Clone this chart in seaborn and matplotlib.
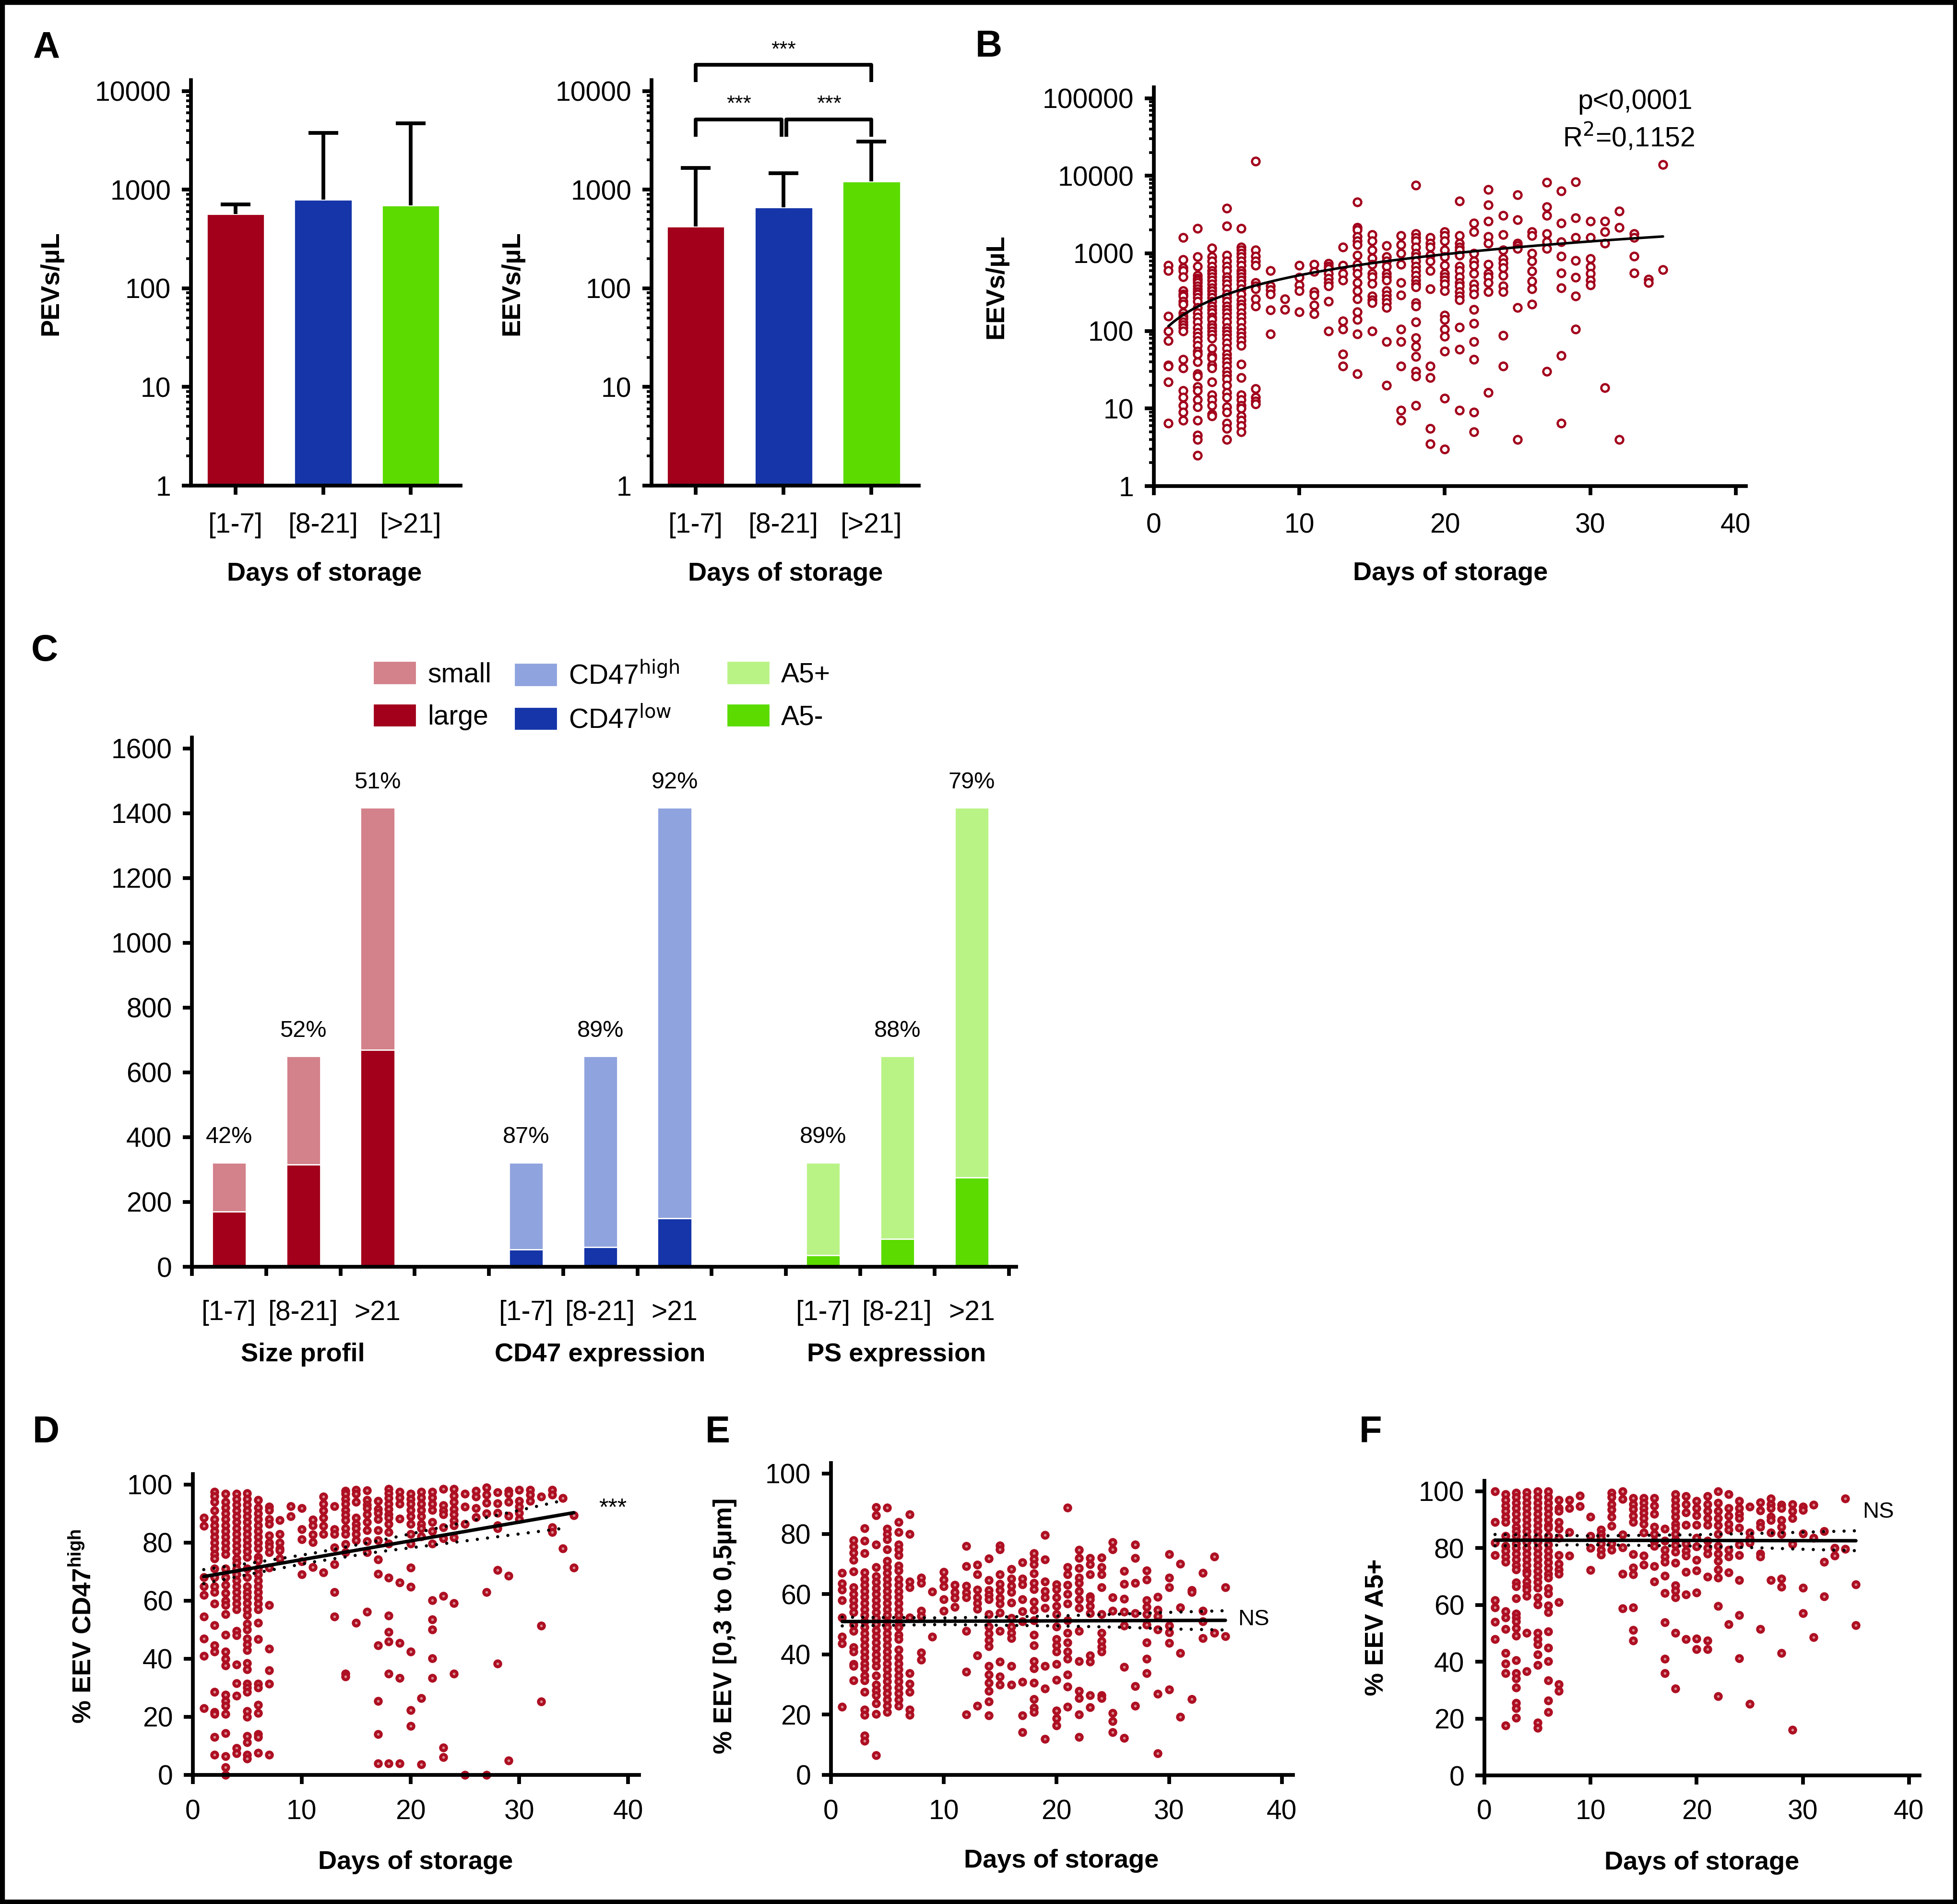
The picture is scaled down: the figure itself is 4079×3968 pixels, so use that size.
import matplotlib
matplotlib.use("Agg")
import matplotlib.pyplot as plt
from matplotlib import ticker
from matplotlib.patches import Patch, Rectangle
import numpy as np
import pandas as pd
import seaborn as sns

W, H, DPI = 4080, 3968, 200

# ---------------- data ----------------
storage_groups = ["[1-7]", "[8-21]", "[>21]"]
pev_means = [567, 794, 695]
pev_upper = [710, 3780, 4700]
eev_means = [423, 666, 1208]
eev_upper = [1655, 1470, 3085]

c_groups = ["Size profil", "CD47 expression", "PS expression"]
c_ticklabels = ["[1-7]", "[8-21]", ">21"]
eev_total = [322, 650, 1417]
size_large = [171, 315, 670]
cd47_low = [53, 60, 150]
a5_neg = [35, 86, 275]
size_pct = ["42%", "52%", "51%"]
cd47_pct = ["87%", "89%", "92%"]
ps_pct = ["89%", "88%", "79%"]

# panel B, EEVs/uL per day of storage
eev_by_day = {
    1: [700, 600, 155, 100, 75, 36, 35, 22, 6.5],
    2: [1600, 830, 650, 600, 500, 330, 300, 280, 240, 220, 170, 155, 145, 130, 120, 110, 100, 43, 33, 17, 14, 11, 9, 7],
    3: [2100, 900, 680, 520, 480, 450, 420, 380, 350, 320, 300, 270, 240, 200, 170, 150, 130, 110, 95, 85, 75, 65, 55,
        50, 40, 28, 26, 19, 17, 13, 10.5, 7, 4.5, 4, 2.5],
    4: [1170, 900, 800, 680, 600, 550, 500, 450, 400, 360, 330, 300, 270, 240, 210, 190, 170, 150, 140, 120, 110, 100,
        90, 80, 60, 48, 45, 36, 33, 22, 15, 13, 11, 8.5, 8],
    5: [3800, 2250, 950, 800, 680, 600, 500, 450, 400, 350, 300, 270, 240, 210, 190, 170, 150, 130, 110, 100, 90, 80,
        70, 60, 50, 45, 40, 35, 30, 27, 24, 20, 16, 14, 10.5, 9, 6.5, 5.5, 4],
    6: [2100, 1200, 1100, 1000, 900, 800, 700, 600, 550, 500, 450, 400, 350, 300, 250, 220, 200, 170, 150, 130, 110, 95,
        85, 75, 65, 37, 25, 15, 13, 11, 10, 8, 7, 6, 5],
    7: [15500, 1100, 920, 800, 700, 420, 380, 350, 260, 210, 18, 14, 12.5, 11.5],
    8: [600, 380, 340, 300, 185, 92],
    9: [260, 190],
    10: [700, 490, 390, 330, 175],
    11: [720, 580, 320, 290, 215, 165],
    12: [740, 680, 630, 550, 480, 420, 380, 240, 100],
    13: [1200, 700, 550, 450, 135, 105, 50, 35],
    14: [4600, 2150, 2000, 1650, 1450, 1300, 950, 720, 630, 550, 420, 330, 260, 175, 140, 92, 28],
    15: [1750, 1450, 1100, 870, 720, 550, 500, 410, 280, 250, 230, 100],
    16: [1250, 900, 800, 680, 550, 500, 450, 330, 290, 260, 230, 200, 73, 20],
    17: [1700, 1300, 1000, 720, 420, 290, 105, 73, 35, 9.5, 7],
    18: [7500, 1800, 1600, 1450, 1200, 1000, 900, 800, 680, 600, 520, 450, 400, 370, 230, 210, 130, 82, 63, 47, 30, 26, 11],
    19: [1600, 1350, 1200, 950, 800, 600, 350, 35, 25, 5.5, 3.5],
    20: [1900, 1700, 1450, 1100, 900, 700, 550, 500, 450, 400, 330, 160, 140, 105, 85, 55, 13.5, 3],
    21: [4700, 1700, 1350, 1200, 1100, 950, 680, 600, 500, 420, 380, 320, 280, 250, 112, 58, 9.5],
    22: [2450, 1900, 1000, 800, 700, 550, 400, 350, 300, 190, 125, 73, 43, 9, 5],
    23: [6600, 4200, 2600, 1650, 1350, 720, 550, 500, 420, 320, 16],
    24: [3100, 1750, 1100, 850, 750, 650, 520, 380, 320, 88, 35],
    25: [5700, 2700, 1350, 1250, 1150, 200, 4],
    26: [1900, 1700, 1000, 800, 590, 440, 350, 220],
    27: [8200, 4000, 3100, 1800, 1400, 1150, 30],
    28: [6400, 2450, 1400, 920, 560, 360, 48, 6.5],
    29: [8300, 2850, 1600, 810, 490, 280, 105],
    30: [2600, 1600, 850, 670, 550, 450, 390],
    31: [2600, 1900, 1350, 18.5],
    32: [3500, 2150, 4],
    33: [1800, 1600, 920, 560],
    34: [460, 420],
    35: [14000, 620],
}
# regression curve of panel B (linear fit, drawn on the log axis)
fit_b_days = [1, 35]
fit_b_values = [115, 1650]
fit_b_text = ["p<0,0001", "R$^2$=0,1152"]

# panel D, % EEV CD47high
cd47_by_day = {
    1: [88.5, 85.7, 68, 65, 62, 54.5, 47, 41, 23],
    2: [97.5, 96, 94, 91, 88, 86, 84, 82, 80, 78, 76, 74.5, 71, 68, 65, 63, 59, 51.6, 44.6, 42.5, 28.6, 21.7, 21, 13, 7],
    3: [96.8, 94, 92, 90, 88, 86, 84, 82, 80, 78, 76, 71, 68, 65.5, 62.7, 60, 58.5, 55.4, 48.3, 42.5, 40, 37.7, 27.6,
        25.5, 23.8, 21, 14.3, 6.4, 2.6, 0],
    4: [96.8, 95, 93, 91, 89, 87, 85, 83, 81, 79, 77, 74.5, 73, 71, 69, 67, 65, 63, 61, 59, 57, 49.5, 48, 38, 31.6,
        27.3, 9.2, 7.4],
    5: [97, 95, 93, 91, 89, 87, 85, 83, 81, 79, 77, 75, 71, 68, 65, 63, 61.3, 59.2, 57, 55, 52, 50, 47, 45, 43, 38.5,
        36.3, 31.4, 30, 28.6, 22, 20, 13.4, 11.3, 7, 5.7],
    6: [94.7, 92, 90, 88, 86, 84, 82, 80, 78, 75, 73.9, 71, 69, 67, 65, 63, 61, 59, 57, 52.3, 46.7, 31.4, 30, 24.1,
        21.3, 14, 13, 7.6],
    7: [92.3, 91.2, 88, 86.4, 82.5, 80, 78.7, 76.6, 71.4, 58.5, 43.5, 36, 31.4, 7],
    8: [87.8, 82.9, 80, 78, 77.4, 74.5],
    9: [92.6, 89],
    10: [91.9, 84.6, 81.2, 73.6, 69.1],
    11: [87.9, 86, 82.8, 80.1, 71.6],
    12: [95.8, 93.3, 91, 88.5, 85.7, 82.9, 69.7],
    13: [92.6, 84.6, 82.9, 78.4, 72.5, 62.9, 54.5],
    14: [97.8, 96.8, 95, 93.3, 91.2, 89.5, 87.8, 84.9, 82.9, 79.4, 76.6, 34.9, 33.9],
    15: [98.2, 96.8, 94, 88.5, 86.4, 84.9, 82.9, 80.8, 52.3],
    16: [98, 94.7, 93, 91.9, 89.8, 87.1, 84.3, 80.5, 76.6, 56.1],
    17: [94.4, 91.6, 90.2, 88.1, 84.3, 80.8, 74.2, 69.3, 44.6, 25.5, 14, 4],
    18: [98.5, 97, 95.4, 93.3, 91.5, 89.8, 88.5, 86.4, 83.6, 79.7, 67.9, 54.9, 49.2, 46, 34.9, 4],
    19: [97.5, 95.5, 93.3, 88.3, 66.2, 45.5, 33.3, 4],
    20: [96.8, 95, 93.3, 91.2, 89, 86.4, 82.9, 79.7, 71.4, 64.8, 42.4, 22.3, 16.8],
    21: [97.5, 95.5, 93.3, 91.2, 89, 86.4, 84.9, 82.2, 26.4, 3.6],
    22: [97.5, 95.5, 93.3, 91.2, 87.1, 83.9, 79.7, 60.1, 53.5, 50, 40.1, 33.4],
    23: [98.5, 92.9, 91, 89.8, 85.3, 81.5, 61.7, 9.5, 6.1],
    24: [98.5, 96.1, 94, 91.5, 89.8, 87.5, 86, 81.8, 59.1, 34.9],
    25: [96.8, 92.3, 86.4, 0],
    26: [97.8, 95.8, 91.9, 88.8],
    27: [98.9, 96.5, 93.7, 90, 62.9, 0],
    28: [97.3, 93.5, 90.2, 86, 85, 70.6, 38.4],
    29: [97.8, 96.8, 94, 89.3, 68.6, 4.9],
    30: [98.2, 94.4, 92.3, 90.2, 88.1],
    31: [98.2, 96.5, 94.4],
    32: [95.8, 51.4, 25.2],
    33: [98.2, 96.5, 85.3, 83.6],
    34: [95.3, 78],
    35: [89.4, 71.4],
}
# fit line and 95% confidence band of panel D
fit_d_days = [1, 35]
fit_d_values = [68.3, 90.3]
band_d_days = [1, 6, 11, 17, 23, 29, 34]
band_d_upper = [70.7, 73.3, 76.3, 80.6, 85.4, 90.3, 94.5]
band_d_lower = [65.9, 69.7, 73.3, 76.8, 79.6, 82.5, 84.9]

# panel E, % EEV [0,3 to 0,5 um]
small_by_day = {
    1: [67, 63.6, 61.5, 58, 52.3, 45.9, 43.7, 22.6],
    2: [77.9, 75.8, 73.7, 71.3, 67.5, 62.3, 60, 58, 56, 54, 49.9, 47.8, 42.3, 40.9, 36.8, 36.1, 31.3],
    3: [81.8, 77.7, 73.5, 67.2, 65, 63, 61, 59, 57, 55, 53, 51, 49, 47, 45, 43, 41, 39, 37, 35.4, 33, 31.3, 27.5,
        21.6, 19.9, 13, 11.3],
    4: [88.9, 86.2, 76.4, 68.9, 66, 64, 62, 60, 58, 56, 54, 52, 50, 48, 46, 44, 42, 40, 38, 36.1, 33, 30, 28, 26.4,
        23.7, 20.2, 6.6],
    5: [88.7, 81.7, 80, 78.2, 74.8, 71, 69, 67, 65, 63, 61, 59, 57, 55, 53, 51, 49, 47, 45, 43, 41, 39, 37, 35, 33,
        31, 29, 27, 25, 23, 20.9],
    6: [83.9, 80.6, 76.4, 74.8, 73, 69.4, 67.9, 65, 63, 61, 59, 57, 55, 53, 51, 49, 46.5, 45.1, 41.6, 39, 37, 35, 33,
        31, 29, 27, 25, 23],
    7: [86.4, 79.9, 64.1, 62.3, 52.3, 33.7, 30.2, 27.6, 21.6, 19.9],
    8: [65.4, 63.7, 54.4, 52.7, 40.6, 38.2],
    9: [60.8, 45.8],
    10: [67.3, 64.8, 62.5, 58.3, 54.4],
    11: [63, 60.6, 58.8, 55.8],
    12: [75.9, 69.2, 62.7, 60.5, 58.9, 47.8, 34.2, 20],
    13: [69.7, 66.6, 61.4, 58.9, 57, 55.1, 39.6, 22.9],
    14: [71.8, 64.6, 61.3, 59.7, 58.2, 53.4, 49.2, 47, 44.8, 42.7, 36.1, 33.3, 30.5, 27.8, 24.4, 19.7],
    15: [76.1, 74.8, 66.6, 63.4, 61.3, 58.7, 56.8, 53.8, 47.8, 37.5, 32.7, 29.9],
    16: [68.3, 65.1, 62.7, 60.6, 57.2, 52, 49.2, 47.2, 45.4, 36.1, 30],
    17: [70.5, 65.2, 63.2, 58.2, 54.3, 51, 30.9, 19.7, 14.2],
    18: [73.5, 71.7, 69.9, 66.8, 63.7, 61.6, 57.5, 54.7, 51.3, 46.5, 43, 37.8, 35.4, 30.6, 25.1, 22.3, 20.9],
    19: [79.6, 71.5, 64.1, 61, 58.9, 55.4, 36.2, 28.6, 11.9],
    20: [63.2, 61.6, 58.9, 56, 53.4, 49.2, 45.1, 43, 40.9, 36.8, 31.6, 21.3, 18.8, 16.4],
    21: [88.7, 68.9, 66.5, 63, 60, 56.8, 51.3, 47.2, 44, 41, 38.5, 33.3, 29.3, 22.6],
    22: [74.6, 72, 68.6, 65.5, 63.7, 61, 58.2, 55.4, 47.8, 37.8, 27.8, 25.4, 20, 12.6],
    23: [72, 69.9, 66.6, 59.2, 58.2, 56.1, 53.7, 39.6, 37.5, 26.4, 22.4],
    24: [72.2, 68.9, 66.5, 62.3, 53.4, 47.2, 44.5, 42.5, 40.9, 26.4, 25.4],
    25: [77.2, 74.9, 58.9, 54.4, 20.6, 17.8, 14.2],
    26: [67.7, 63.4, 58.5, 54.1, 49.6, 35.8, 12.3],
    27: [76.5, 72, 63.7, 53.7, 29.5, 23],
    28: [67.9, 64.8, 57.9, 55.8, 53.4, 49.9, 44, 38.5, 33.7],
    29: [59, 54.7, 52.7, 48.2, 26.9, 7.2],
    30: [73.2, 65.4, 62.3, 49.6, 47.3, 43.8, 28.3],
    31: [70.1, 55.6, 40.4, 19.2],
    32: [61.3, 60.6, 25.1],
    33: [67, 54.5, 50.9, 45.4],
    34: [72.5, 47.2],
    35: [62.3, 46],
}
fit_e_days = [1, 35]
fit_e_values = [50.9, 51.3]
band_e_days = [1, 10, 20, 26, 30, 35]
band_e_upper = [52.35, 52.1, 52.75, 53.4, 53.95, 54.5]
band_e_lower = [49.45, 49.9, 49.45, 49.0, 48.45, 48.1]

# panel F, % EEV A5+
a5_by_day = {
    1: [99.9, 89.2, 81.9, 77.5, 61.6, 59.1, 54, 47.9],
    2: [99, 97, 95, 93, 91, 89.2, 84.3, 80.8, 79, 77, 75.2, 57.7, 55.6, 51.5, 43, 39.4, 35.9, 17.6],
    3: [99.4, 98, 96, 94, 92, 89.9, 87.5, 86, 84.3, 81.5, 80, 78, 76, 74, 72.4, 67.9, 66.5, 62.3, 57, 55.5, 54.2,
        51.8, 49.1, 40.5, 36, 34.2, 30.9, 25.5, 23.7, 20.2],
    4: [99.7, 98, 96, 94, 92, 90, 88, 86, 84, 82, 80, 78, 76, 74, 72, 71, 68.2, 66.5, 65.4, 63.1, 50.1, 36.6],
    5: [100, 98, 96, 94, 92, 90, 88, 86, 84, 82, 80, 78, 76, 74, 72, 70, 68, 66.1, 62.6, 60.2, 50.1, 48, 46.1, 42.5,
        38.9, 18.5, 16.7],
    6: [100, 98, 96, 94, 92, 90, 88, 87.1, 84.3, 81.2, 79, 77, 75, 73, 71, 69.6, 65.8, 64, 59.8, 57.4, 50.7, 44.9,
        40.2, 33.4, 26.4, 22.3],
    7: [96.9, 94.1, 93.1, 89.1, 86.8, 83.6, 77.5, 74.5, 72.5, 71, 60.9, 32.1, 29.7],
    8: [96.9, 94.1, 85.7, 77.3],
    9: [98.5, 94.7],
    10: [91, 84.3, 80.1, 72.3],
    11: [86.4, 85, 83.6, 81.5, 79.4, 77.7],
    12: [99.4, 98, 95.5, 93.5, 91, 87.8, 81.5, 79.4],
    13: [100, 97.3, 84.7, 80.3, 70.9, 58.8],
    14: [97.6, 95.5, 93.8, 91.3, 89.1, 77.9, 73.1, 70.7, 59.1, 51.1, 47.5],
    15: [97.6, 96, 94.1, 92.4, 90.5, 88.5, 85.4, 77.3, 74.2],
    16: [97.6, 95, 92, 87.5, 85, 82.5, 80.8, 73.7, 68.3],
    17: [86.8, 82.6, 79.4, 77, 75.2, 70.2, 64.1, 53.9, 41, 35.9],
    18: [99, 97, 95, 93, 91, 88.5, 87.1, 85, 83, 81, 78.7, 74.9, 66.8, 65, 62.6, 50.1, 30.6],
    19: [98.3, 95.5, 92.6, 88.2, 81.5, 79, 77.3, 71.6, 63.7, 47.9],
    20: [96.6, 94, 91.5, 88.2, 83.6, 80.5, 75.8, 72.1, 64.4, 48.2, 44.4],
    21: [98.3, 95.5, 93, 90.5, 88.2, 82.6, 80, 78, 70, 47.5, 44.5],
    22: [100, 95.9, 93, 90.5, 88, 85, 80.8, 78, 75.5, 72.5, 69.6, 59.7, 27.9],
    23: [99, 94.1, 91.3, 88.5, 86.4, 79.4, 77, 71.4, 53.2],
    24: [96.6, 94.1, 92, 90.6, 87.1, 81.2, 77.5, 68.7, 56.4, 41.2],
    25: [94.5, 85.4, 83.5, 81.9, 25.1],
    26: [96.1, 93.3, 88.9, 87.5, 78, 77, 51.5],
    27: [97.5, 95.5, 94.1, 91, 89.9, 85.4, 68.8],
    28: [95.2, 94.1, 89.8, 87.5, 85, 69.3, 66.3, 43.1],
    29: [95.5, 93, 90.6, 81.4, 16],
    30: [94.5, 93.4, 85.2, 66.1, 57.1],
    31: [95.2, 83.6, 48.7],
    32: [85.9, 75.2, 63],
    33: [80.1, 77.3],
    34: [97.5, 79.8],
    35: [67.3, 52.8],
}
fit_f_days = [1, 35]
fit_f_values = [82.8, 82.6]
band_f_days = [1, 10, 20, 26, 30, 35]
band_f_upper = [84.8, 84.3, 84.7, 85.2, 85.6, 86.1]
band_f_lower = [80.8, 81.2, 80.7, 80.1, 79.6, 79.1]

# ---------------- style ----------------
RED, BLUE, GREEN = "#a2001b", "#1535a8", "#5bdb00"
LIGHT_RED, LIGHT_BLUE, LIGHT_GREEN = "#d3818a", "#8fa3de", "#b9f386"
DOT_EDGE, DOT_FACE = "#ae0f22", "#d98c93"
LW = 2.8
NUM_SIZE = 20.5
BASE_FONT = "Liberation Sans"
LABEL_PROPS = dict(family=BASE_FONT, fontweight="bold", fontsize=19.5)

sns.set_style("ticks")
plt.rcParams["font.family"] = [BASE_FONT, "DejaVu Sans"]
plt.rcParams.update({"text.color": "black", "axes.labelcolor": "black",
                     "xtick.color": "black", "ytick.color": "black", "axes.edgecolor": "black"})
plt.rcParams["mathtext.fontset"] = "custom"
plt.rcParams["mathtext.rm"] = BASE_FONT + ":bold"
plt.rcParams["mathtext.it"] = BASE_FONT + ":bold"
plt.rcParams["mathtext.bf"] = BASE_FONT + ":bold"


def box(left, top, right, bottom):
    return [left / W, 1 - bottom / H, (right - left) / W, (bottom - top) / H]


def fxy(x, y):
    return x / W, 1 - y / H


def label(fig, x, y, text, rotation=0):
    fig.text(*fxy(x, y), text, ha="center", va="center", rotation=rotation, **LABEL_PROPS)


def style_axes(ax):
    sns.despine(ax=ax)
    for side in ("left", "bottom"):
        ax.spines[side].set_linewidth(LW)
        ax.spines[side].set_capstyle("projecting")
    ax.tick_params(which="major", length=7, width=LW, labelsize=NUM_SIZE, pad=8)
    ax.tick_params(which="minor", length=3.5, width=2)
    ax.set_xlabel("")
    ax.set_ylabel("")


def log_ticks(ax, top_decade):
    ax.set_yticks([10 ** k for k in range(top_decade + 1)])
    ax.yaxis.set_major_formatter(ticker.FuncFormatter(lambda v, _: f"{int(round(v))}"))
    ax.yaxis.set_minor_locator(ticker.LogLocator(base=10, subs=np.arange(2, 10)))
    ax.yaxis.set_minor_formatter(ticker.NullFormatter())


def long_form(per_day, name):
    rows = [(d, v) for d, vals in per_day.items() for v in vals]
    return pd.DataFrame(rows, columns=["day", name])


def draw_bars(ax, means, upper):
    df = pd.DataFrame({"group": storage_groups, "value": means})
    ax.set_yscale("log")
    sns.barplot(data=df, x="group", y="value", hue="group", palette=[RED, BLUE, GREEN],
                width=0.66, errorbar=None, legend=False, saturation=1, ax=ax)
    err = np.array(upper) - np.array(means)
    _, caps, _ = ax.errorbar(range(3), means, yerr=[np.zeros(3), err], fmt="none", ecolor="black",
                             elinewidth=LW, capsize=11, capthick=LW)
    caps[0].set_visible(False)  # no cap at the bar top
    ax.set_ylim(1, 12900)
    log_ticks(ax, 4)
    style_axes(ax)
    ax.tick_params(axis="x", pad=13)


def draw_percent_scatter(ax, per_day, name, fit_days, fit_values, band_days, band_upper, band_lower):
    df = long_form(per_day, name)
    sns.scatterplot(data=df, x="day", y=name, ax=ax, s=19, color=DOT_FACE, edgecolor=DOT_EDGE,
                    linewidth=2.3, zorder=2, clip_on=False, legend=False)
    ax.plot(fit_days, fit_values, color="black", lw=2.6, zorder=3)
    for band in (band_upper, band_lower):
        ax.plot(band_days, band, color="black", lw=2.4, ls=(0, (0.01, 3.2)),
                dash_capstyle="round", zorder=3)
    ax.set_xlim(0, 41)
    ax.set_ylim(0, 103.6)
    ax.set_xticks(range(0, 41, 10))
    ax.set_yticks(range(0, 101, 20))
    style_axes(ax)
    ax.tick_params(axis="x", pad=11)


fig = plt.figure(figsize=(W / DPI, H / DPI), dpi=DPI)

# ---------------- panel A ----------------
ax_pev = fig.add_axes(box(398, 167, 960, 1012))
draw_bars(ax_pev, pev_means, pev_upper)
ax_pev.set_xlim(-0.51, 2.57)

ax_eev = fig.add_axes(box(1358, 167, 1915, 1012))
draw_bars(ax_eev, eev_means, eev_upper)
ax_eev.set_xlim(-0.503, 2.54)
bracket = dict(color="black", lw=LW, clip_on=False, solid_capstyle="butt")
ax_eev.plot([0, 0, 2, 2], [12370, 18400, 18400, 12370], **bracket)
ax_eev.plot([0, 0, 0.98, 0.98], [3450, 5160, 5160, 3450], **bracket)
ax_eev.plot([1.03, 1.03, 2, 2], [3450, 5160, 5160, 3450], **bracket)
for xs, ys in [(1.0, 26000), (0.49, 7300), (1.52, 7300)]:
    ax_eev.text(xs, ys, "***", ha="center", va="center", fontsize=16, clip_on=False)

label(fig, 106, 590, "PEVs/µL", rotation=90)
label(fig, 1067, 590, "EEVs/µL", rotation=90)
label(fig, 676, 1196, "Days of storage")
label(fig, 1637, 1196, "Days of storage")

# ---------------- panel B ----------------
ax_b = fig.add_axes(box(2405, 182, 3639, 1013))
ax_b.set_yscale("log")
df_b = long_form(eev_by_day, "eev")
sns.scatterplot(data=df_b, x="day", y="eev", ax=ax_b, s=32, color="white", edgecolor=RED,
                linewidth=1.7, zorder=2, legend=False)
sns.regplot(x=fit_b_days, y=fit_b_values, ax=ax_b, scatter=False, ci=None, truncate=True,
            line_kws=dict(color="black", lw=1.9, zorder=3))
ax_b.set_xlim(0, 40.7)
ax_b.set_ylim(1, 1.38e5)
ax_b.set_xticks(range(0, 41, 10))
log_ticks(ax_b, 5)
style_axes(ax_b)
ax_b.tick_params(axis="x", pad=13)
fig.text(*fxy(3408, 212), fit_b_text[0], ha="center", va="center", fontsize=NUM_SIZE)
fig.text(*fxy(3395, 285), fit_b_text[1], ha="center", va="center", fontsize=NUM_SIZE,
         math_fontfamily="dejavusans")
label(fig, 2076, 597, "EEVs/µL", rotation=90)
label(fig, 3023, 1195, "Days of storage")

# ---------------- panel C ----------------
ax_c = fig.add_axes(box(400, 1537, 2118, 2640))
lows = [size_large, cd47_low, a5_neg]
pcts = [size_pct, cd47_pct, ps_pct]
light = [LIGHT_RED, LIGHT_BLUE, LIGHT_GREEN]
dark = [RED, BLUE, GREEN]
rows = []
for g in range(3):
    for i in range(3):
        rows.append({"pos": g * 4 + i + 0.5, "total": eev_total[i], "low": lows[g][i],
                     "light": light[g], "dark": dark[g], "pct": pcts[g][i]})
df_c = pd.DataFrame(rows)
sns.barplot(data=df_c, x="pos", y="total", hue="light", palette={c: c for c in light},
            native_scale=True, width=0.46, dodge=False, errorbar=None, saturation=1,
            legend=False, ax=ax_c)
sns.barplot(data=df_c, x="pos", y="low", hue="dark", palette={c: c for c in dark},
            native_scale=True, width=0.46, dodge=False, errorbar=None, saturation=1,
            legend=False, ax=ax_c)
for _, r in df_c.iterrows():
    ax_c.text(r["pos"], r["total"] + 78, r["pct"], ha="center", va="center", fontsize=17.5)
ax_c.set_xlim(0, 11.1)
ax_c.set_ylim(0, 1634)
ax_c.set_yticks(range(0, 1601, 200))
ax_c.set_xticks(range(12))
ax_c.set_xticklabels([])
ax_c.set_xticks(df_c["pos"], labels=c_ticklabels * 3, minor=True)
style_axes(ax_c)
ax_c.tick_params(axis="x", which="minor", length=0, pad=25, labelsize=NUM_SIZE)
for name, xc in zip(c_groups, [631, 1251, 1869]):
    label(fig, xc, 2823, name)

legend_cols = [
    (780, [LIGHT_RED, RED], ["small", "large"]),
    (1074, [LIGHT_BLUE, BLUE], ["CD47$^{\\mathrm{high}}$", "CD47$^{\\mathrm{low}}$"]),
    (1517, [LIGHT_GREEN, GREEN], ["A5+", "A5-"]),
]
for lx, cols, names in legend_cols:
    leg = fig.legend([Patch(color=c) for c in cols], names, loc="upper left",
                     bbox_to_anchor=fxy(lx, 1380), frameon=False, fontsize=NUM_SIZE,
                     handlelength=1.5, handleheight=0.8, handletextpad=0.45,
                     labelspacing=0.6, borderpad=0, borderaxespad=0)
    for t in leg.get_texts():
        t.set_math_fontfamily("dejavusans")

# ---------------- panels D, E, F ----------------
ax_d = fig.add_axes(box(402, 3072, 1332, 3699))
draw_percent_scatter(ax_d, cd47_by_day, "cd47", fit_d_days, fit_d_values,
                     band_d_days, band_d_upper, band_d_lower)
ax_d.text(38.6, 91.7, "***", ha="center", va="center", fontsize=18)
label(fig, 175, 3390, "% EEV CD47$^{\\mathrm{high}}$", rotation=90)
label(fig, 866, 3881, "Days of storage")

ax_e = fig.add_axes(box(1732, 3049, 2695, 3699))
draw_percent_scatter(ax_e, small_by_day, "small", fit_e_days, fit_e_values,
                     band_e_days, band_e_upper, band_e_lower)
ax_e.set_ylim(0, 103.5)
ax_e.text(37.5, 51.6, "NS", ha="center", va="center", fontsize=17)
label(fig, 1511, 3388, "% EEV [0,3 to 0,5µm]", rotation=90)
label(fig, 2212, 3878, "Days of storage")

ax_f = fig.add_axes(box(3094, 3086, 4001, 3700))
draw_percent_scatter(ax_f, a5_by_day, "a5", fit_f_days, fit_f_values,
                     band_f_days, band_f_upper, band_f_lower)
ax_f.set_ylim(0, 103.7)
ax_f.text(37.1, 92.7, "NS", ha="center", va="center", fontsize=17)
label(fig, 2869, 3391, "% EEV A5+", rotation=90)
label(fig, 3547, 3882, "Days of storage")

# ---------------- panel letters and frame ----------------
for letter, (lx, ly) in zip("ABCDEF", [(96, 100), (2061, 98), (93, 1356), (96, 2985), (1496, 2985), (2857, 2985)]):
    fig.text(*fxy(lx, ly), letter, ha="center", va="center", fontsize=28, fontweight="bold",
             family=BASE_FONT)
fig.add_artist(Rectangle((0, 0), 1, 1, transform=fig.transFigure, fill=False, lw=7, edgecolor="black"))

fig.savefig("out.png", dpi=DPI)
